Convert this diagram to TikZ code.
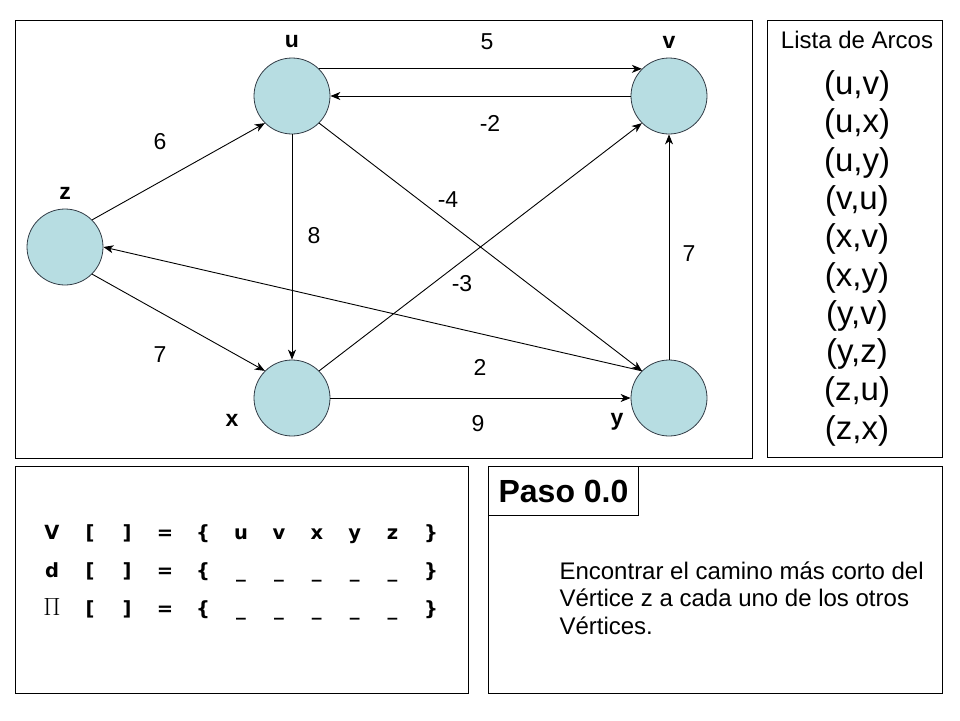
\documentclass[tikz,border=0pt]{standalone}
\usepackage{fontspec}
\setmainfont{Liberation Sans}
\newfontfamily\tablefont{DejaVu Sans}
\usetikzlibrary{arrows.meta}
\definecolor{vertexfill}{RGB}{183,221,226}
\definecolor{vertexline}{RGB}{50,60,70}

\begin{document}
\begin{tikzpicture}
  [x=1pt,y=-1pt,
   vertex/.style={circle,draw=vertexline,fill=vertexfill,minimum size=76pt,inner sep=0pt,line width=0.8pt},
   vname/.style={font=\fontsize{23}{27}\selectfont\bfseries},
   weight/.style={font=\fontsize{23}{27}\selectfont},
   link/.style={line width=0.9pt,-{Stealth[length=10pt,width=8pt,inset=3pt]}},
   panel/.style={draw,line width=1pt},
   cell/.style={font=\tablefont\fontsize{19.5}{23}\selectfont\bfseries,anchor=base,inner sep=0pt},
   pair/.style={font=\fontsize{33}{38}\selectfont}]

  \useasboundingbox[fill=white] (0,0) rectangle (960,720);

  % panels
  \draw[panel] (15,20) rectangle (752,458);
  \draw[panel] (767,20) rectangle (942,457);
  \draw[panel] (15,466) rectangle (468,693);
  \draw[panel] (488,466) rectangle (942,693);

  % graph
  \node[vertex] (u) at (292,96) {};
  \node[vertex] (v) at (669,96) {};
  \node[vertex] (z) at (65,247) {};
  \node[vertex] (x) at (292,398) {};
  \node[vertex] (y) at (669,398) {};

  \node[vname] (ulbl) at (292,42) {u};
  \node[vname] (vlbl) at (669,42) {v};
  \node[vname] (zlbl) at (65,193) {z};
  \node[vname] (xlbl) at (232,420) {x};
  \node[vname] (ylbl) at (617,422) {y};

  \path[link]
     (u.north east) edge (v.north west)
     (v.west) edge (u.east)
     (z.north east) edge (u.south west)
     (z.south east) edge (x.north west)
     (u.south) edge (x.north)
     (u.south east) edge (y.north west)
     (x.north east) edge (v.south west)
     (y.north west) edge (z.east)
     (y.north) edge (v.south)
     (x.east) edge (y.west);

  \node[weight] (w5) at (487,42) {5};
  \node[weight] (w-2) at (490,123) {-2};
  \node[weight] (w6) at (160,142) {6};
  \node[weight] (w7a) at (160,355) {7};
  \node[weight] (w8) at (314,236) {8};
  \node[weight] (w-4) at (448,200) {-4};
  \node[weight] (w-3) at (462,284) {-3};
  \node[weight] (w7b) at (689,254) {7};
  \node[weight] (w2) at (480,367) {2};
  \node[weight] (w9) at (478,424) {9};

  % arc list
  \node[font=\fontsize{24}{28}\selectfont] (lhead) at (857,40) {Lista de Arcos};
  \foreach \a [count=\i from 0] in {{(u,v)},{(u,x)},{(u,y)},{(v,u)},{(x,v)},{(x,y)},{(y,v)},{(y,z)},{(z,u)},{(z,x)}}
    \node[pair] (arc\i) at (857,86+38.3*\i) {\a};

  % table
  \node[cell] (Vrow) at (52,539) {V};
  \node[cell] (drow) at (52,577) {d};
  \node[cell,font=\fontsize{26}{28}\selectfont] (pirow) at (52,615) {$\Pi$};
  \foreach \r/\yy in {1/539,2/577,3/615} {
    \node[cell] (lb\r) at (90,\yy) {[};
    \node[cell] (rb\r) at (127,\yy) {]};
    \node[cell] (eq\r) at (165,\yy) {=};
    \node[cell] (lc\r) at (203,\yy) {\{};
    \node[cell] (rc\r) at (431,\yy) {\}};
  }
  \foreach \s [count=\i from 0] in {u,v,x,y,z} {
    \node[cell] (vv\i) at (241+37.9*\i,539) {\s};
    \node[cell] (dd\i) at (241+37.9*\i,577) {\_};
    \node[cell] (pp\i) at (241+37.9*\i,615) {\_};
  }

  % step
  \node[draw,line width=1pt,anchor=north west,minimum width=150pt,minimum height=49pt,
        font=\fontsize{32}{36}\selectfont\bfseries] (paso) at (488,466) {Paso 0.0};
  \node[anchor=west,align=left,font=\fontsize{24}{27.5}\selectfont] (goal) at (556,598)
     {Encontrar el camino más corto del\\Vértice z a cada uno de los otros\\Vértices.};

\end{tikzpicture}
\end{document}
